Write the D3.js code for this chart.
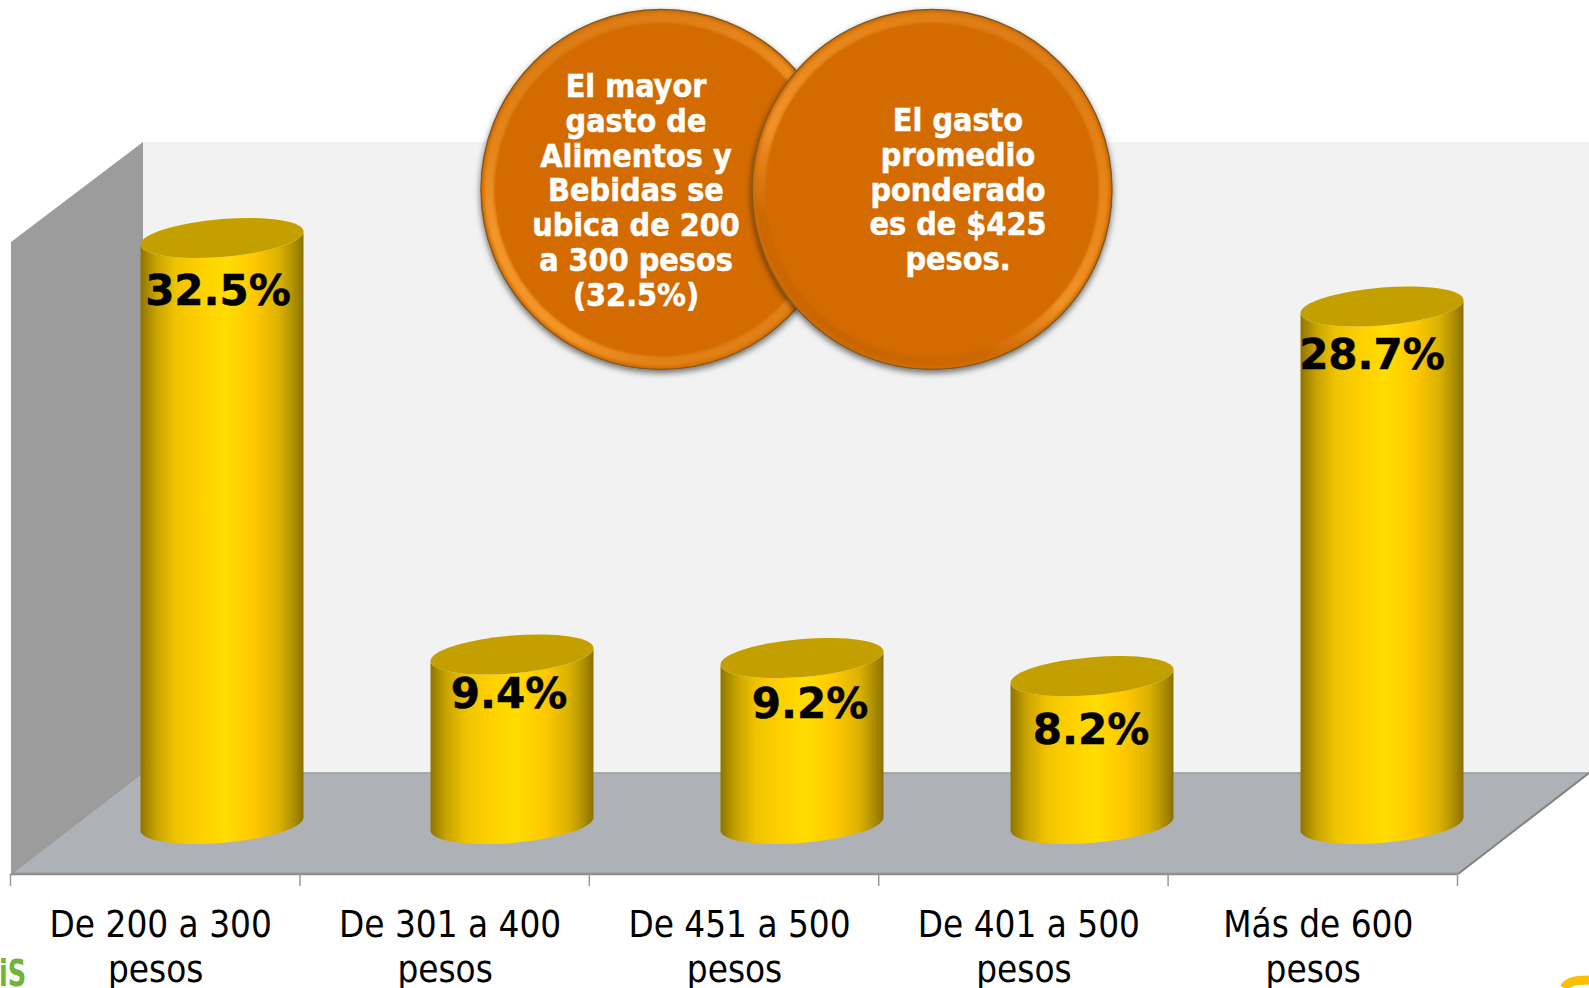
<!DOCTYPE html>
<html><head><meta charset="utf-8">
<script src="https://cdn.jsdelivr.net/npm/d3@7"></script>
<style>html,body{margin:0;padding:0;background:#fff;overflow:hidden}svg{display:block}</style>
</head><body><svg id="c" width="1589" height="988"></svg>
<script>
const categories = ["De 200 a 300","De 301 a 400","De 451 a 500","De 401 a 500","Más de 600"];
const categoryUnit = "pesos";
const values = [32.5,9.4,9.2,8.2,28.7];
const valueLabels = ["32.5%","9.4%","9.2%","8.2%","28.7%"];
const bubbleLeftLines = ["El mayor","gasto de","Alimentos y","Bebidas se","ubica de 200","a 300 pesos","(32.5%)"];
const bubbleRightLines = ["El gasto","promedio","ponderado","es de $425","pesos."];

// layout
const W=1589,H=988;
const floorFront=874, floorLeft=11, floorRight=1458, depthX=131, depthY=101, wallTop=142;
const valueFontNudge=[[-4,67],[-3,53],[8,60],[-1,68],[-10,62]];
const cond="'DejaVu Sans Condensed','DejaVu Sans',sans-serif";

const svg=d3.select("#c");
const defs=svg.append("defs");
const x=d3.scaleBand().domain(categories).range([floorLeft,floorRight]);
const xBar=d3.scaleBand().domain(categories).range([77,1527]);
const y=d3.scaleLinear().domain([0,32.5]).range([824,238]);

const g=defs.append("linearGradient").attr("id","cyl");
[[0,"#8f7400"],[.1,"#c9a400"],[.22,"#efc400"],[.36,"#ffcf00"],[.52,"#ffdd00"],[.7,"#ffc800"],[.85,"#dcb200"],[.94,"#ae8e00"],[1,"#8a7000"]]
 .forEach(d=>g.append("stop").attr("offset",d[0]).attr("stop-color",d[1]));

const line=d3.line();
svg.append("path").attr("d",line([[floorLeft+depthX+1,wallTop],[W,wallTop],[W,floorFront-depthY],[floorLeft+depthX+1,floorFront-depthY]])).attr("fill","#f2f2f2");
svg.append("path").attr("d",line([[floorLeft,wallTop+100],[floorLeft+depthX+1,wallTop],[floorLeft+depthX+1,floorFront-depthY],[floorLeft,floorFront]])+"Z").attr("fill","#9c9c9c");
svg.append("path").attr("d",line([[floorLeft,floorFront],[floorLeft+depthX,floorFront-depthY],[floorRight+depthX,floorFront-depthY],[floorRight,floorFront]])+"Z")
  .attr("fill","#aeb1b5").attr("stroke","#9a9a9a").attr("stroke-width",1.5);
svg.append("path").attr("d",line([[floorLeft,floorFront],[floorRight,floorFront]])).attr("stroke","#8f8f8f").attr("stroke-width",2.5).attr("fill","none");
svg.append("path").attr("d",line([[floorRight,floorFront],[floorRight+depthX,floorFront-depthY]])).attr("stroke","#858585").attr("stroke-width",2).attr("fill","none");

// ticks
const tickXs=[...categories.map(c=>x(c)),x(categories[categories.length-1])+x.bandwidth()];
svg.selectAll(".tick").data(tickXs).join("line").attr("x1",d=>d-0.5).attr("x2",d=>d-0.5).attr("y1",floorFront).attr("y2",floorFront+12).attr("stroke","#999").attr("stroke-width",1.5);

// cylinders
const rx=81.5, ry=19, skew=-0.08;
const barCx=i=>xBar(categories[i])+xBar.bandwidth()/2;
const bars=svg.selectAll(".bar").data(values).join("g").attr("class","bar")
  .attr("transform",(d,i)=>`translate(${barCx(i)},0) matrix(1,${skew},0,1,0,0)`);
bars.append("path").attr("fill","url(#cyl)")
  .attr("d",d=>`M${-rx},${y(d)}L${-rx},${y(0)}A${rx},${ry} 0 0 0 ${rx},${y(0)}L${rx},${y(d)}A${rx},${ry} 0 0 1 ${-rx},${y(d)}Z`);
bars.append("ellipse").attr("rx",rx).attr("ry",ry).attr("cy",d=>y(d)).attr("fill","#c3a000");

// value labels
svg.selectAll(".val").data(values).join("text").attr("class","val")
  .attr("x",(d,i)=>barCx(i)+valueFontNudge[i][0])
  .attr("y",(d,i)=>y(d)+valueFontNudge[i][1])
  .attr("text-anchor","middle").attr("font-family","'DejaVu Sans',sans-serif").attr("font-weight","700").attr("font-size",42).attr("fill","#000")
  .attr("stroke","#000").attr("stroke-width",.5)
  .text((d,i)=>valueLabels[i]);

// category labels
const cat=svg.selectAll(".cat").data(categories).join("text").attr("class","cat")
  .attr("text-anchor","middle").attr("font-family",cond).attr("font-size",36.5).attr("fill","#000");
cat.append("tspan").attr("x",d=>x(d)+x.bandwidth()/2+5).attr("y",937).text(d=>d);
cat.append("tspan").attr("x",d=>x(d)+x.bandwidth()/2).attr("y",982).text(categoryUnit);

// cropped neighbours at the corners
svg.append("text").attr("transform","translate(-1,986) scale(.75,1)").attr("font-family",cond).attr("font-weight",700).attr("font-size",38).attr("fill","#6fb536").text("iS");
svg.append("path").attr("d","M1564,988C1568,982 1574,980 1589,980").attr("fill","none").attr("stroke","#fdc000").attr("stroke-width",9);

// bubbles
const shadow=defs.append("filter").attr("id","sh").attr("x","-10%").attr("y","-10%").attr("width","120%").attr("height","125%");
shadow.append("feDropShadow").attr("dx",0).attr("dy",3).attr("stdDeviation",3).attr("flood-color","#000").attr("flood-opacity",.55);
defs.append("filter").attr("id","bl").append("feGaussianBlur").attr("stdDeviation",1.8);
const ring=defs.append("linearGradient").attr("id","ring").attr("x1",0.1).attr("y1",0).attr("x2",.5).attr("y2",1);
[[0,"#d87810"],[.3,"#e5861c"],[.5,"#f2962a"],[.85,"#f29428"],[1,"#e08018"]].forEach(d=>ring.append("stop").attr("offset",d[0]).attr("stop-color",d[1]));
const ring2=defs.append("linearGradient").attr("id","ring2").attr("x1",.8).attr("y1",0).attr("x2",.2).attr("y2",1);
[[0,"#dc7a12"],[.4,"#ea8a1e"],[.58,"#f0922a"],[.78,"#cc6800"],[1,"#c86400"]].forEach(d=>ring2.append("stop").attr("offset",d[0]).attr("stop-color",d[1]));

function bubble(cx,cy,r,ringId,lines,tx,ty,step){
  const b=svg.append("g");
  b.append("circle").attr("cx",cx).attr("cy",cy).attr("r",r).attr("fill","#d46c00").attr("stroke","#7c5a28").attr("stroke-width",1.5).attr("filter","url(#sh)");
  b.append("circle").attr("cx",cx).attr("cy",cy).attr("r",r-8).attr("fill","none").attr("stroke",`url(#${ringId})`).attr("stroke-width",10).attr("filter","url(#bl)");
  b.append("circle").attr("cx",cx).attr("cy",cy).attr("r",r-14).attr("fill","#d46c00").attr("opacity",.9);
  b.selectAll("text").data(lines).join("text").attr("x",tx).attr("y",(d,i)=>ty+i*step)
    .attr("text-anchor","middle").attr("font-family",cond).attr("font-weight",700).attr("font-size",32).attr("fill","#fff")
    .attr("stroke","#fff").attr("stroke-width",.5).text(d=>d);
}
bubble(661,189.5,180,"ring",bubbleLeftLines,636,97,34.8);
bubble(932,189.5,180,"ring2",bubbleRightLines,958,131,34.8);
</script></body></html>
